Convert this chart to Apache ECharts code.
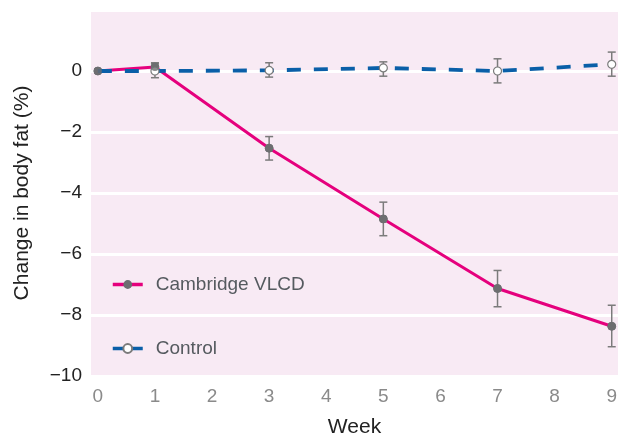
<!DOCTYPE html>
<html>
<head>
<meta charset="utf-8">
<script src="https://cdn.jsdelivr.net/npm/echarts@6/dist/echarts.min.js"></script>
<style>html,body{margin:0;padding:0;background:#fff}#c{width:618px;height:442px}</style>
</head>
<body>
<div id="c"></div>
<script>
const weeks = [0, 1, 3, 5, 7, 9];
const xTicks = [0, 1, 2, 3, 4, 5, 6, 7, 8, 9];
const yTicks = [0, -2, -4, -6, -8, -10];
const vlcdName = 'Cambridge VLCD';
const controlName = 'Control';
const vlcd = [0, 0.13, -2.53, -4.85, -7.13, -8.37];
const vlcdLow = [null, -0.05, -2.92, -5.4, -7.73, -9.04];
const vlcdHigh = [null, 0.25, -2.15, -4.3, -6.54, -7.68];
const control = [0, 0.0, 0.02, 0.1, 0.0, 0.22];
const controlLow = [null, -0.22, -0.2, -0.17, -0.39, -0.17];
const controlHigh = [null, 0.27, 0.27, 0.3, 0.4, 0.62];

const FONT = 'Liberation Sans, Arial, sans-serif';
const chart = echarts.init(document.getElementById('c'));

function errData(low, high) {
  const out = [];
  weeks.forEach((w, i) => { if (low[i] !== null) out.push([w, low[i], high[i]]); });
  return out;
}
function errRender(params, api) {
  const x = api.value(0);
  const lo = api.coord([x, api.value(1)]);
  const hi = api.coord([x, api.value(2)]);
  const cw = 4;
  const st = { stroke: '#7b7b7b', lineWidth: 1.5, fill: null };
  return { type: 'group', children: [
    { type: 'line', shape: { x1: lo[0], y1: lo[1], x2: hi[0], y2: hi[1] }, style: st },
    { type: 'line', shape: { x1: lo[0]-cw, y1: lo[1], x2: lo[0]+cw, y2: lo[1] }, style: st },
    { type: 'line', shape: { x1: hi[0]-cw, y1: hi[1], x2: hi[0]+cw, y2: hi[1] }, style: st }
  ]};
}

const option = {
  animation: false,
  grid: { left: 91, right: 0, top: 10, bottom: 66, show: true, backgroundColor: '#f8eaf4', borderWidth: 0,
          containLabel: false, outerBoundsMode: 'none' },
  legend: {
    orient: 'vertical', left: 106, top: 270, itemGap: 45, itemWidth: 30, itemHeight: 11,
    textStyle: { fontFamily: FONT, fontSize: 19, color: '#555a5f', padding: [0, 0, 0, 8] },
    lineStyle: { type: 'solid', width: 3.5 },
    data: [vlcdName, controlName]
  },
  xAxis: {
    type: 'value', min: -0.12, max: 9.11,
    name: 'Week', nameLocation: 'middle', nameGap: 41,
    nameTextStyle: { fontFamily: FONT, fontSize: 21, color: '#222' },
    axisLine: { show: false }, axisTick: { show: false }, splitLine: { show: false },
    axisLabel: { customValues: xTicks, fontFamily: FONT, fontSize: 19, color: '#8a8a8a', margin: 11 }
  },
  yAxis: {
    type: 'value', min: -10, max: 2, interval: 2,
    name: 'Change in body fat (%)', nameLocation: 'middle', nameGap: 58, nameRotate: 90,
    nameTextStyle: { fontFamily: FONT, fontSize: 21, color: '#222' },
    axisLine: { show: false }, axisTick: { show: false },
    splitLine: { show: true, lineStyle: { color: '#ffffff', width: 3 } },
    axisLabel: { fontFamily: FONT, fontSize: 19, color: '#222', margin: 9,
      formatter: v => (yTicks.indexOf(v) >= 0 ? String(v).replace('-', '\u2212') : '') }
  },
  series: [
    { type: 'custom', name: 'vlcdErr', renderItem: errRender, data: errData(vlcdLow, vlcdHigh), z: 1, silent: true },
    { type: 'custom', name: 'ctrlErr', renderItem: errRender, data: errData(controlLow, controlHigh), z: 1, silent: true },
    {
      type: 'line', name: vlcdName, z: 2,
      data: weeks.map((w, i) => [w, vlcd[i]]),
      lineStyle: { color: '#e5007d', width: 3 },
      itemStyle: { color: '#6d6e71', borderColor: '#6d6e71' },
      symbol: 'circle', symbolSize: 8, showSymbol: true
    },
    {
      type: 'line', name: controlName, z: 3,
      data: weeks.map((w, i) => i === 0 ? { value: [w, control[i]], symbol: 'none' } : [w, control[i]]),
      lineStyle: { color: '#0a5fa8', width: 3.8, type: [14, 13] },
      itemStyle: { color: '#ffffff', borderColor: '#7b7b7b', borderWidth: 1.2 },
      symbol: 'circle', symbolSize: 8, showSymbol: true
    },
    {
      type: 'scatter', name: 'vlcdMarks', z: 4, silent: true,
      data: weeks.map((w, i) => [w, vlcd[i]]),
      symbol: 'circle', symbolSize: 8, itemStyle: { color: '#6d6e71' }
    }
  ]
};
chart.setOption(option);
</script>
</body>
</html>
